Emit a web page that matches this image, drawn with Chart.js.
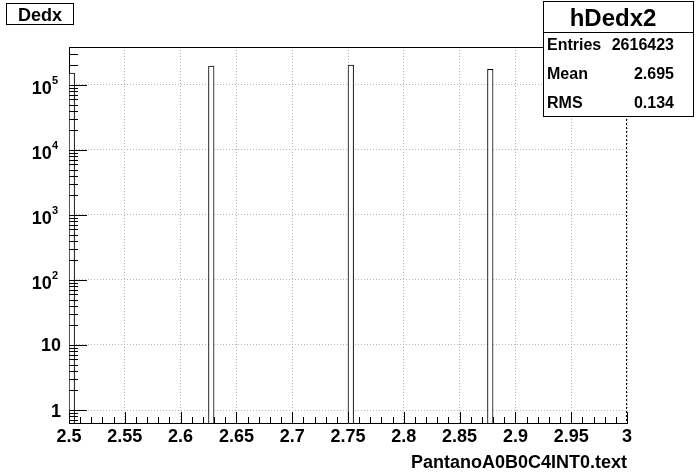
<!DOCTYPE html>
<html>
<head>
<meta charset="utf-8">
<script src="https://cdn.jsdelivr.net/npm/chart.js@4.4.1/dist/chart.umd.min.js"></script>
<style>
  html, body { margin: 0; padding: 0; background: #fff; }
  canvas { display: block; }
</style>
</head>
<body>
<canvas id="hDedx2" width="696" height="472"></canvas>
<script>
// histogram range and binning
const xMin = 2.5;
const xMax = 3.0;
const nBins = 100;

// filled bins (low edge) and their contents
const peakBinLow = [2.5, 2.625, 2.75, 2.875];
const peakCounts = [153000, 195000, 203000, 174000];

// axis ticks
const xMajorTicks = [2.5, 2.55, 2.6, 2.65, 2.7, 2.75, 2.8, 2.85, 2.9, 2.95, 3.0];
const xTickLabels = ['2.5', '2.55', '2.6', '2.65', '2.7', '2.75', '2.8', '2.85', '2.9', '2.95', '3'];
const yDecades = [1, 10, 100, 1000, 10000, 100000];
const yTickBase = ['1', '10', '10', '10', '10', '10'];
const yTickExp = ['', '', '2', '3', '4', '5'];

// stats box
const statsTitle = 'hDedx2';
const statsNames = ['Entries', 'Mean', 'RMS'];
const statsValues = ['2616423', '2.695', '0.134'];

const histTitle = 'Dedx';
const xTitle = 'PantanoA0B0C4INT0.text';

const yMin = 0.631;
const yMax = 384000;

// build the bin table
const binWidth = (xMax - xMin) / nBins;
const binLabels = [];
const binCounts = [];
for (let i = 0; i < nBins; i++) {
    binLabels.push((xMin + i * binWidth).toFixed(3));
    binCounts.push(null);
}
peakBinLow.forEach((low, k) => {
    binCounts[Math.round((low - xMin) / binWidth)] = peakCounts[k];
});

const FONT = '"Liberation Sans", Arial, Helvetica, sans-serif';

function isXMajor(v) {
    return xMajorTicks.some(m => Math.abs(m - v) < 1e-6);
}
function isYMajor(v) {
    return yDecades.some(d => Math.abs(d - v) / d < 1e-6);
}

function line(ctx, x1, y1, x2, y2) {
    ctx.beginPath();
    ctx.moveTo(x1, y1);
    ctx.lineTo(x2, y2);
    ctx.stroke();
}

// ROOT style frame: inside ticks, labels with exponents, title and stats boxes
const rootFrame = {
    id: 'rootFrame',
    afterDraw(chart) {
        const { ctx, chartArea: a } = chart;
        const x = chart.scales.x;
        const y = chart.scales.y;
        ctx.save();
        ctx.strokeStyle = '#000';
        ctx.lineWidth = 1;

        // top and right edge of the frame
        line(ctx, a.left, Math.round(a.top) + 0.5, a.right, Math.round(a.top) + 0.5);
        ctx.setLineDash([2, 2]);
        line(ctx, Math.round(a.right) - 0.5, a.top, Math.round(a.right) - 0.5, a.bottom);
        ctx.setLineDash([]);

        // x ticks, pointing up into the frame
        x.ticks.forEach(t => {
            const px = Math.round(x.getPixelForValue(t.value)) + 0.5;
            const len = isXMajor(t.value) ? 11 : 6;
            line(ctx, px, a.bottom, px, a.bottom - len);
        });
        // y ticks, pointing right into the frame
        y.ticks.forEach(t => {
            const py = Math.round(y.getPixelForValue(t.value)) + 0.5;
            const len = isYMajor(t.value) ? 18 : 9;
            line(ctx, a.left, py, a.left + len, py);
        });

        // x tick labels
        ctx.fillStyle = '#000';
        ctx.font = 'bold 18px ' + FONT;
        ctx.textAlign = 'center';
        ctx.textBaseline = 'alphabetic';
        xMajorTicks.forEach((v, i) => {
            ctx.fillText(xTickLabels[i], x.getPixelForValue(v), a.bottom + 19);
        });

        // y tick labels
        yDecades.forEach((v, i) => {
            const py = y.getPixelForValue(v);
            if (yTickExp[i] === '') {
                ctx.font = 'bold 18px ' + FONT;
                ctx.textAlign = 'right';
                ctx.fillText(yTickBase[i], a.left - 8, py + 6.5);
            } else {
                ctx.font = 'bold 11px ' + FONT;
                const ew = ctx.measureText(yTickExp[i]).width;
                ctx.textAlign = 'left';
                ctx.fillText(yTickExp[i], a.left - 11 - ew, py - 1);
                ctx.font = 'bold 18px ' + FONT;
                ctx.textAlign = 'right';
                ctx.fillText(yTickBase[i], a.left - 11 - ew, py + 9.5);
            }
        });

        // x axis title
        ctx.font = 'bold 18px ' + FONT;
        ctx.textAlign = 'right';
        ctx.fillText(xTitle, a.right, 468);

        // histogram title box
        ctx.fillStyle = '#fff';
        ctx.fillRect(6, 3, 68, 22);
        ctx.strokeRect(6.5, 3.5, 67, 21);
        ctx.fillStyle = '#000';
        ctx.textAlign = 'center';
        ctx.fillText(histTitle, 40, 21);

        // stats box
        ctx.fillStyle = '#fff';
        ctx.fillRect(543, 1, 151, 116);
        ctx.strokeRect(543.5, 1.5, 150, 115);
        line(ctx, 543, 32.5, 694, 32.5);
        ctx.fillStyle = '#000';
        ctx.font = 'bold 24px ' + FONT;
        ctx.textAlign = 'center';
        ctx.fillText(statsTitle, 613, 26);
        ctx.font = 'bold 16px ' + FONT;
        const rowBase = [50, 79, 108];
        statsNames.forEach((name, i) => {
            ctx.textAlign = 'left';
            ctx.fillText(name, 547, rowBase[i]);
            ctx.textAlign = 'right';
            ctx.fillText(statsValues[i], 674, rowBase[i]);
        });
        ctx.restore();
    }
};

const gridColor = '#b4b4b4';

const ctxHist = document.getElementById('hDedx2').getContext('2d');
const histograma = new Chart(ctxHist, {
    type: 'bar',
    data: {
        labels: binLabels,
        datasets: [{
            label: statsTitle,
            data: binCounts,
            xAxisID: 'xb',
            yAxisID: 'y',
            backgroundColor: '#ffffff',
            borderColor: '#000000',
            borderWidth: 1,
            borderSkipped: 'bottom',
            barPercentage: 1,
            categoryPercentage: 1
        }]
    },
    options: {
        responsive: false,
        animation: false,
        devicePixelRatio: 1,
        layout: { padding: { left: 69, right: 69, top: 47, bottom: 49 } },
        plugins: {
            legend: { display: false },
            tooltip: { enabled: false },
            title: { display: false }
        },
        scales: {
            xb: {
                type: 'category',
                display: false,
                offset: true
            },
            x: {
                type: 'linear',
                position: 'bottom',
                min: xMin,
                max: xMax,
                bounds: 'data',
                offset: false,
                afterBuildTicks: scale => {
                    const ticks = [];
                    for (let i = 0; i < xMajorTicks.length; i++) {
                        ticks.push({ value: xMajorTicks[i] });
                        if (i < xMajorTicks.length - 1) {
                            const step = (xMajorTicks[i + 1] - xMajorTicks[i]) / 5;
                            for (let k = 1; k < 5; k++) ticks.push({ value: xMajorTicks[i] + k * step });
                        }
                    }
                    scale.ticks = ticks;
                },
                ticks: { display: false },
                grid: {
                    offset: false,
                    drawTicks: false,
                    lineWidth: 1,
                    color: c => (c.tick && isXMajor(c.tick.value)) ? gridColor : 'rgba(0,0,0,0)'
                },
                border: { display: true, color: '#000', width: 1, dash: [1, 2] }
            },
            y: {
                type: 'logarithmic',
                min: yMin,
                max: yMax,
                bounds: 'data',
                afterBuildTicks: scale => {
                    const ticks = [];
                    const decades = [0.1].concat(yDecades);
                    decades.forEach(d => {
                        for (let m = 1; m < 10; m++) {
                            const v = d * m;
                            if (v >= yMin && v <= yMax) ticks.push({ value: v });
                        }
                    });
                    scale.ticks = ticks;
                },
                ticks: { display: false },
                grid: {
                    drawTicks: false,
                    lineWidth: 1,
                    color: c => (c.tick && isYMajor(c.tick.value)) ? gridColor : 'rgba(0,0,0,0)'
                },
                border: { display: true, color: '#000', width: 1, dash: [1, 2] }
            }
        }
    },
    plugins: [rootFrame]
});
</script>
</body>
</html>
